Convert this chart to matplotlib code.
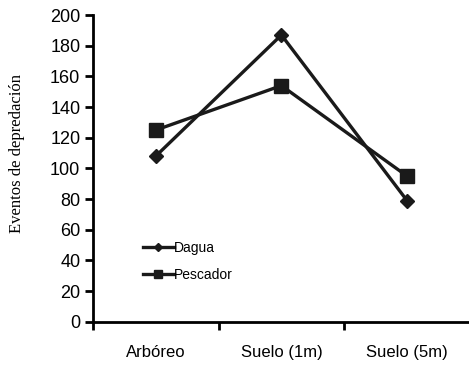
from matplotlib import pyplot as plt
import numpy as np

categories = ['Arbóreo', 'Suelo (1m)', 'Suelo (5m)']
dagua = [108, 187, 79]
pescador = [125, 154, 95]


def main():
    plt.rcParams['font.family'] = ['Liberation Sans', 'DejaVu Sans']
    fig = plt.figure(figsize=(4.69, 3.67), dpi=100)
    ax = fig.add_axes([0.198, 0.123, 0.804, 0.836])

    x = np.arange(len(categories))
    ax.plot(x, dagua, color='#1a1a1a', lw=2.4, marker='D', ms=7, label='Dagua')
    ax.plot(x, pescador, color='#1a1a1a', lw=2.4, marker='s', ms=10, label='Pescador')

    ax.set_xlim(-0.5, 2.49)
    ax.set_ylim(0, 200)
    ax.set_yticks(range(0, 201, 20))
    ax.set_xticks([-0.5, 0.5, 1.5, 2.5])
    ax.set_xticklabels([])
    ax.set_xticks(x, minor=True)
    ax.set_xticklabels(categories, minor=True, fontsize=12)
    ax.tick_params(axis='x', which='minor', length=0, pad=17)
    ax.tick_params(axis='x', which='major', length=6, width=2)
    ax.tick_params(axis='y', length=6, width=2, labelsize=13, pad=3)

    for s in ['top', 'right']:
        ax.spines[s].set_visible(False)
    for s in ['left', 'bottom']:
        ax.spines[s].set_linewidth(2)

    ax.set_ylabel('Eventos de depredación', family=['Liberation Serif', 'DejaVu Serif'],
                  fontsize=12)
    ax.yaxis.set_label_coords(-0.18, 0.55)

    ax.legend(loc='lower left', bbox_to_anchor=(0.1, 0.09), frameon=False,
              fontsize=10, handlelength=2.2, markerscale=0.6, labelspacing=0.9,
              handletextpad=0.05)

    fig.savefig('out.png', dpi=100)


if __name__ == '__main__':
    main()
